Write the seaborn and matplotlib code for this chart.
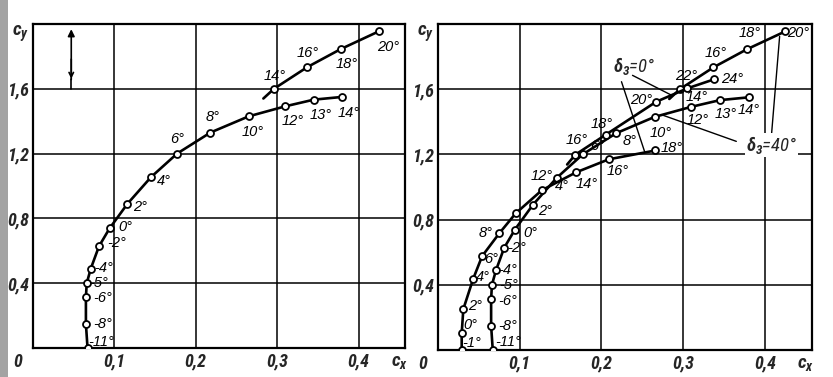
import numpy as np
import pandas as pd
import matplotlib
matplotlib.use("Agg")
import matplotlib.pyplot as plt
import seaborn as sns
from matplotlib import font_manager
from matplotlib.patches import Rectangle

# ---------------- data ----------------
# polar delta3 = 40 deg (shown alone on the left, and again on the right)
a40_low_deg = [-11, -8, -6, -5, -4, -2, 0, 2, 4, 6, 8, 10, 12, 13, 14]
a40_low_cx = [0.067, 0.065, 0.065, 0.066, 0.071, 0.081, 0.094, 0.116, 0.145,
              0.177, 0.218, 0.265, 0.310, 0.345, 0.380]
a40_low_cy = [0.0, 0.148, 0.312, 0.400, 0.490, 0.627, 0.738, 0.890, 1.055,
              1.200, 1.330, 1.430, 1.492, 1.533, 1.550]
a40_up_deg = [14, 16, 18, 20]
a40_up_cx = [0.296, 0.337, 0.378, 0.425]
a40_up_cy = [1.600, 1.734, 1.845, 1.955]
a40_up_tail_cx = [0.283, 0.296]
a40_up_tail_cy = [1.540, 1.600]

# polar delta3 = 0 deg (right panel only)
a0_low_deg = [-1, 0, 2, 4, 6, 8, 10, 12, 14, 16, 18]
a0_low_lab = ["-1°", "0°", "2°", "4°", "6°", "8°", "", "12°", "14°", "16°", "18°"]
a0_low_cx = [0.029, 0.029, 0.031, 0.043, 0.054, 0.075, 0.095, 0.127, 0.169, 0.209, 0.266]
a0_low_cy = [0.0, 0.103, 0.251, 0.436, 0.576, 0.716, 0.838, 0.980, 1.090, 1.170, 1.224]
a0_up_deg = [16, 18, 20, 22, 24]
a0_up_cx = [0.168, 0.205, 0.267, 0.305, 0.3375]
a0_up_cy = [1.198, 1.320, 1.523, 1.605, 1.660]
a0_up_tail_cx = [0.158, 0.168]
a0_up_tail_cy = [1.138, 1.198]

x_ticks = [0.1, 0.2, 0.3, 0.4]
x_tick_labels = ["0,1", "0,2", "0,3", "0,4"]
y_ticks = [0.4, 0.8, 1.2, 1.6]
y_tick_labels = ["0,4", "0,8", "1,2", "1,6"]

# leader lines of the delta3 labels (cx, cy pairs)
lead0_a = ([0.238, 0.287], [1.685, 1.560])
lead0_b = ([0.2245, 0.253], [1.646, 1.214])
lead40_a = ([0.365, 0.2754], [1.280, 1.440])
lead40_b = ([0.408, 0.418], [1.317, 1.924])

# ---------------- label offsets (pixels) ----------------
off_l_low = [(14, 6), (17, 0), (17, -1), (12, 0), (13, 1), (18, 3), (16, 1), (13, -3),
             (13, -4), (0, 15), (2, 16), (4, -16), (7, -15), (7, -15), (6, -16)]
off_l_up = [(1, 13), (0, 14), (6, -15), (9, -16)]
off_r40_low = [(15, 8), (17, 0), (17, -2), (17, 0), (12, 0), (12, 0), (16, -3), (12, -6),
               (5, -8), (15, 8), (13, -8), (6, -16), (6, -13), (6, -14), (0, -13)]
off_r40_up = [(17, -8), (2, 14), (3, 16), (13, -2)]
off_r0_low = [(10, 7), (9, 8), (12, 3), (10, 2), (9, -3), (-14, 0), (0, 0), (0, 14),
              (11, -12), (9, -12), (16, 2)]
off_r0_up = [(1, 15), (-4, 11), (-15, 2), (-1, 12), (18, 0)]

# ---------------- style ----------------
sns.set_theme(style="white")
avail = {f.name for f in font_manager.fontManager.ttflist}
fam = "DejaVu Sans"
for cand in ["Liberation Sans Narrow", "DejaVu Sans Condensed", "Roboto Condensed"]:
    if cand in avail:
        fam = cand
        break
lab_fam = "Liberation Sans" if "Liberation Sans" in avail else "DejaVu Sans"
plt.rcParams["font.family"] = [fam, "DejaVu Sans"]
plt.rcParams["mathtext.fontset"] = "custom"
plt.rcParams["mathtext.it"] = f"{fam}:italic:bold"
plt.rcParams["mathtext.rm"] = f"{fam}:italic:bold"

fig = plt.figure(figsize=(8.33, 3.77), dpi=100)
fig.patch.set_facecolor("white")
fig.patches.append(Rectangle((0, 0), 8 / 833, 1, transform=fig.transFigure,
                             facecolor="#a3a3a3", edgecolor="none", zorder=0))

axL = fig.add_axes([33 / 833, 29 / 377, 372 / 833, 324 / 377])
axR = fig.add_axes([438 / 833, 27 / 377, 373.5 / 833, 326 / 377])

LW = 1.9
mk = dict(marker="o", markersize=5, markerfacecolor="white",
          markeredgecolor="black", markeredgewidth=1.3)
lab_kw = dict(fontsize=10.5, fontstyle="italic", color="black",
              family=[lab_fam, "DejaVu Sans"],
              ha="center", va="center", textcoords="offset pixels")


def curve(ax, cx, cy, markers=True):
    df = pd.DataFrame({"cx": cx, "cy": cy})
    kw = mk if markers else {}
    sns.lineplot(data=df, x="cx", y="cy", sort=False, estimator=None,
                 color="black", lw=LW, ax=ax, zorder=3, **kw)


def labels(ax, cx, cy, texts, offs):
    for x, y, t, o in zip(cx, cy, texts, offs):
        if t:
            ax.annotate(t, xy=(x, y), xytext=o, zorder=5, **lab_kw)


def deg(lst):
    return [f"{d}°" for d in lst]


def frame(ax):
    ax.set_xlim(0, 0.457)
    ax.set_ylim(0, 2.0)
    ax.set_facecolor("white")
    ax.set_xticks(x_ticks)
    ax.set_xticklabels(x_tick_labels)
    ax.set_yticks(y_ticks)
    ax.set_yticklabels(y_tick_labels)
    for lab in ax.get_xticklabels() + ax.get_yticklabels():
        lab.set_fontstyle("italic")
        lab.set_fontweight("bold")
        lab.set_fontsize(13)
    ax.tick_params(length=0, pad=3)
    ax.grid(True, color="black", lw=1.1)
    ax.set_axisbelow(True)
    for s in ax.spines.values():
        s.set_visible(True)
        s.set_color("black")
        s.set_linewidth(1.6)
    ax.set_xlabel("")
    ax.set_ylabel("")
    ax.annotate("0", xy=(0, 0), xytext=(-15, -14), textcoords="offset pixels",
                ha="center", va="center", fontsize=13, fontstyle="italic",
                fontweight="bold", annotation_clip=False)
    ax.annotate(r"$c_x$", xy=(0.45, 0), xytext=(0, -14), textcoords="offset pixels",
                ha="center", va="center", fontsize=14, annotation_clip=False)
    ax.annotate(r"$c_y$", xy=(0, 1.94), xytext=(-12, 0), textcoords="offset pixels",
                ha="center", va="center", fontsize=14, annotation_clip=False)


# ---------------- left panel ----------------
curve(axL, a40_low_cx, a40_low_cy)
curve(axL, a40_up_tail_cx, a40_up_tail_cy, markers=False)
curve(axL, a40_up_cx, a40_up_cy)
frame(axL)
labels(axL, a40_low_cx, a40_low_cy, deg(a40_low_deg), off_l_low)
labels(axL, a40_up_cx, a40_up_cy, deg(a40_up_deg), off_l_up)
axL.plot([0.047, 0.047], [1.6, 1.66], color="black", lw=1.2)
axL.annotate("", xy=(0.047, 1.985), xytext=(0.047, 1.64),
             arrowprops=dict(arrowstyle="-|>", color="black", lw=1.2,
                             mutation_scale=10))
axL.annotate("", xy=(0.047, 1.645), xytext=(0.047, 1.80),
             arrowprops=dict(arrowstyle="->", color="black", lw=1.2,
                             mutation_scale=8))

# ---------------- right panel ----------------
curve(axR, a40_low_cx, a40_low_cy)
curve(axR, a40_up_tail_cx, a40_up_tail_cy, markers=False)
curve(axR, a40_up_cx, a40_up_cy)
curve(axR, a0_low_cx, a0_low_cy)
curve(axR, a0_up_tail_cx, a0_up_tail_cy, markers=False)
curve(axR, a0_up_cx, a0_up_cy)
frame(axR)
labels(axR, a40_low_cx, a40_low_cy, deg(a40_low_deg), off_r40_low)
labels(axR, a40_up_cx, a40_up_cy, deg(a40_up_deg), off_r40_up)
labels(axR, a0_low_cx, a0_low_cy, a0_low_lab, off_r0_low)
labels(axR, a0_up_cx, a0_up_cy, deg(a0_up_deg), off_r0_up)

for lx, ly in (lead0_a, lead0_b, lead40_a, lead40_b):
    axR.plot(lx, ly, color="black", lw=1.0, zorder=4)

axR.text(0.240, 1.745, r"$\delta_3$=0°", fontsize=13.5, fontstyle="italic",
         ha="center", va="center", zorder=6)
axR.text(0.408, 1.258, r"$\delta_3$=40°", fontsize=13.5, fontstyle="italic",
         ha="center", va="center", zorder=6,
         bbox=dict(facecolor="white", edgecolor="none", pad=0.5))

fig.savefig("out.png", dpi=100, facecolor="white")
